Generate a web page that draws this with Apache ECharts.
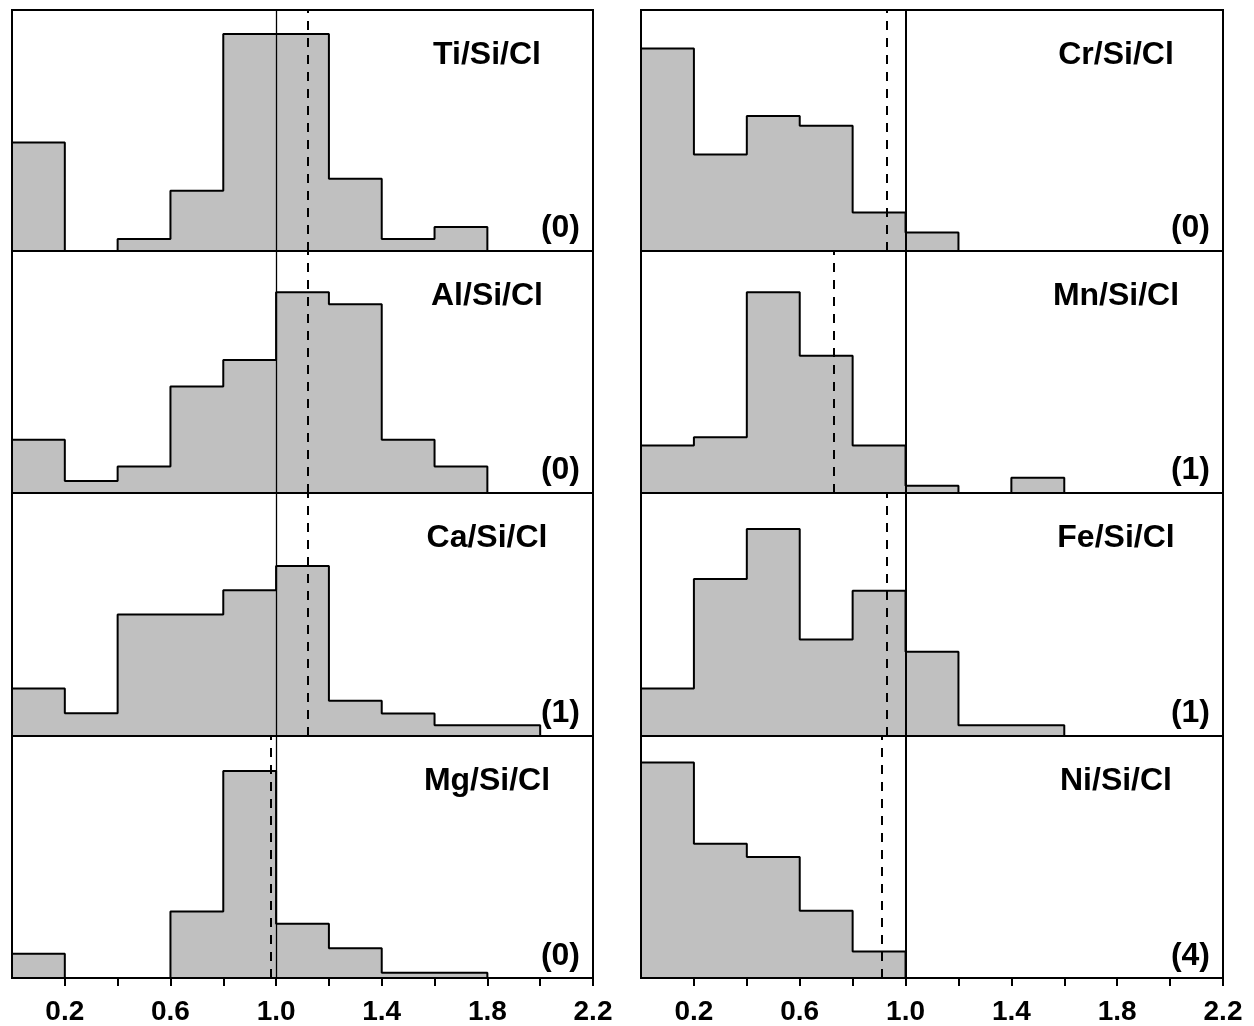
<!DOCTYPE html>
<html>
<head>
<meta charset="utf-8">
<script src="https://cdn.jsdelivr.net/npm/echarts@6/dist/echarts.min.js"></script>
<style>
html,body{margin:0;padding:0;background:#fff;}
#chart{width:1254px;height:1026px;}
</style>
</head>
<body>
<div id="chart"></div>
<script>
// ---- data ----
const binWidth = 0.2;
const binLows = [0.0, 0.2, 0.4, 0.6, 0.8, 1.0, 1.2, 1.4, 1.6, 1.8, 2.0];
const panelNames = ['Ti/Si/Cl', 'Al/Si/Cl', 'Ca/Si/Cl', 'Mg/Si/Cl', 'Cr/Si/Cl', 'Mn/Si/Cl', 'Fe/Si/Cl', 'Ni/Si/Cl'];
// relative bar heights (0-100 scale of each panel)
const tiValues = [45, 0, 5, 25, 90, 90, 30, 5, 10];
const alValues = [22, 5, 11, 44, 55, 83, 78, 22, 11];
const caValues = [19.5, 9.4, 50, 50, 60, 70, 14.5, 9.3, 4.4, 4.4];
const mgValues = [10, 0, 0, 27.5, 85.5, 22.4, 12.3, 2.2, 2.2];
const crValues = [84, 40, 56, 52, 16, 7.7];
const mnValues = [19.6, 23, 83, 56.7, 19.6, 3, 0, 6.3];
const feValues = [19.5, 64.6, 85.2, 39.7, 59.8, 34.7, 4.4, 4.4];
const niValues = [89, 55.5, 50, 27.8, 10.9];
const meanRatios = [1.12, 1.12, 1.12, 0.98, 0.93, 0.73, 0.93, 0.91];
const outlierLabels = ['(0)', '(0)', '(1)', '(0)', '(0)', '(1)', '(1)', '(4)'];
const xTickLabels = ['0.2', '0.6', '1.0', '1.4', '1.8', '2.2'];
const referenceRatio = 1.0;

const panelValues = [tiValues, alValues, caValues, mgValues, crValues, mnValues, feValues, niValues];

// ---- layout ----
const colLeft = [12, 641];
const colWidth = [581, 582];
const rowTop = [10, 251, 493, 736];
const rowHeight = [241, 242, 243, 243];
const FONT = '"Liberation Sans", Arial, sans-serif';

const grids = [], xAxes = [], yAxes = [], series = [], graphics = [];

panelValues.forEach(function (vals, i) {
  const col = i < 4 ? 0 : 1;
  const row = i % 4;
  const isBottom = row === 3;
  const left = colLeft[col], width = colWidth[col], top = rowTop[row], height = rowHeight[row];
  grids.push({ left: left, top: top, width: width, height: height, show: true,
    borderColor: '#000', borderWidth: 2, backgroundColor: 'transparent' });
  xAxes.push({
    type: 'value', gridIndex: i, min: 0, max: 2.2, interval: 0.2, z: 5,
    splitLine: { show: false },
    axisLine: { show: true, onZero: false, lineStyle: { color: '#000', width: 2 } },
    axisTick: { show: isBottom, inside: false, length: 8, lineStyle: { color: '#000', width: 2 } },
    axisLabel: {
      show: isBottom, margin: 20, color: '#000', fontSize: 28, fontWeight: 'bold', fontFamily: FONT,
      showMinLabel: false, showMaxLabel: true,
      formatter: function (v) { const s = v.toFixed(1); return xTickLabels.indexOf(s) >= 0 ? s : ''; }
    }
  });
  yAxes.push({
    type: 'value', gridIndex: i, min: 0, max: 100, z: 5,
    splitLine: { show: false },
    axisLine: { show: true, lineStyle: { color: '#000', width: 2 } },
    axisTick: { show: false }, axisLabel: { show: false }
  });
  // stepped histogram outline built from bin edges
  const pts = [[binLows[0], 0]];
  vals.forEach(function (v, k) { pts.push([binLows[k], v]); });
  pts.push([binLows[vals.length - 1] + binWidth, vals[vals.length - 1]]);
  pts.push([binLows[vals.length - 1] + binWidth, 0]);
  series.push({
    type: 'line', xAxisIndex: i, yAxisIndex: i, data: pts, step: 'end',
    symbol: 'none', silent: true, z: 2,
    lineStyle: { color: '#000', width: 2 },
    areaStyle: { color: '#c0c0c0', opacity: 1 },
    markLine: {
      silent: true, symbol: ['none', 'none'], label: { show: false }, z: 4,
      data: [
        { xAxis: referenceRatio, lineStyle: { type: 'solid', color: '#000', width: col === 0 ? 1.3 : 2 } },
        { xAxis: meanRatios[i], lineStyle: { type: [9, 8], color: '#000', width: 2 } }
      ]
    }
  });
  graphics.push({
    type: 'text', x: left + 475, y: top + 45, z: 10,
    style: { text: panelNames[i], fill: '#000', font: 'bold 32px ' + FONT,
      align: 'center', verticalAlign: 'middle', textAlign: 'center', textVerticalAlign: 'middle' }
  });
  graphics.push({
    type: 'text', x: left + width - 13, y: top + height - 23, z: 10,
    style: { text: outlierLabels[i], fill: '#000', font: 'bold 32px ' + FONT,
      align: 'right', verticalAlign: 'middle', textAlign: 'right', textVerticalAlign: 'middle' }
  });
});

const chart = echarts.init(document.getElementById('chart'), null, { renderer: 'canvas' });
chart.setOption({
  animation: false,
  backgroundColor: '#fff',
  grid: grids, xAxis: xAxes, yAxis: yAxes, series: series,
  graphic: graphics
});
</script>
</body>
</html>
